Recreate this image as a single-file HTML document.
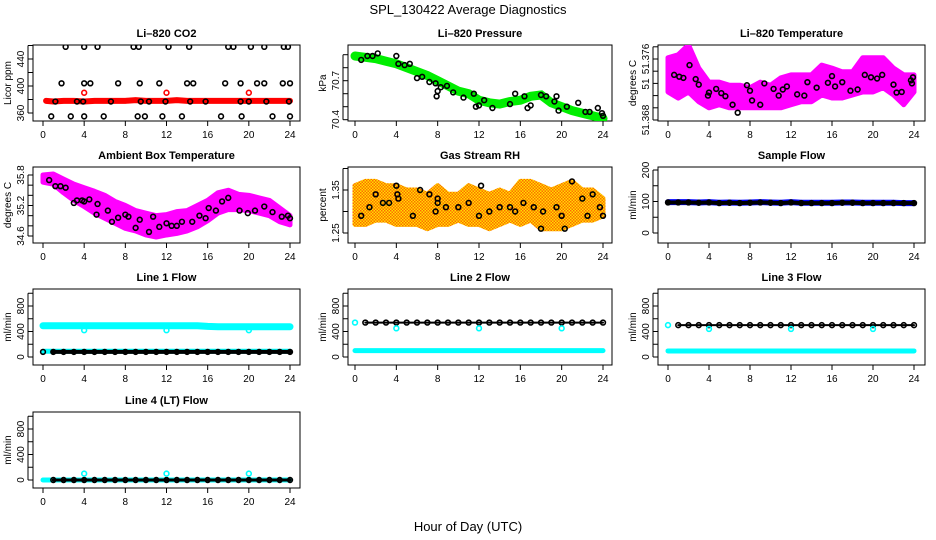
<!DOCTYPE html>
<html><head><meta charset="utf-8"><style>
html,body{margin:0;padding:0;background:#fff;}
svg{display:block;font-family:"Liberation Sans",sans-serif;}
</style></head><body>
<svg id="chart" width="936" height="540" viewBox="0 0 936 540">
<defs>
<pattern id="rhpat" width="3" height="3" patternUnits="userSpaceOnUse"><rect width="3" height="3" fill="#ffe000"/><rect x="0" y="0" width="1.5" height="1.5" fill="#ff6a00"/><rect x="1.5" y="1.5" width="1.5" height="1.5" fill="#ff6a00"/></pattern>
</defs>
<text x="468" y="14" text-anchor="middle" font-size="13">SPL_130422  Average Diagnostics</text>
<text x="468" y="531" text-anchor="middle" font-size="13">Hour of Day (UTC)</text>
</svg>
<script>
const HRS=[0,1,2,3,4,5,6,7,8,9,10,11,12,13,14,15,16,17,18,19,20,21,22,23,24];
const XTICKS=[0,4,8,12,16,20,24];
// CO2
const co2RedT=[0.3,1,2,3,4,5,6,7,8,9,10,11,12,13,14,15,16,17,18,19,20,21,22,23,24];
const co2Red=[378,377,378,378,377,378,378,378,378,379,378,378,378,379,378,378,378,378,378,378,378,378,378,378,378];
const co2SpikeT=[4,12,20];
const co2Spike=[390,390,390];
const co2BlkT=[2.2,4,5.3,8.8,9.3,12.2,14.2,18,18.5,20.2,21.5,23.4,23.8,1.8,4,4.6,7.3,9.4,11.3,14,14.6,17.7,19.2,20.8,21.5,23.3,24,1.2,3.3,3.9,6.6,9.5,10.3,11.9,14.3,15.8,19.2,20.0,21.7,23.9,0.8,2.7,4,5.9,9.2,9.9,11.6,13.5,17.3,19.3,22.3,24];
const co2Blk=[458,458,458,458,458,458,458,458,458,458,458,458,458,404,404,404,404,404,404,404,404,404,404,404,404,404,404,377,377,377,377,377,377,377,377,377,377,377,377,377,355,355,355,355,355,355,355,355,355,355,355,355];
// Pressure
const presC=[70.89,70.88,70.87,70.85,70.83,70.80,70.77,70.74,70.70,70.66,70.62,70.60,70.55,70.53,70.52,70.54,70.55,70.58,70.59,70.53,70.50,70.47,70.45,70.43,70.41];
const presBlkT=[0.6,1.2,1.7,2.2,4,4.2,4.8,5.3,6.0,6.5,7.2,7.8,8.0,7.9,8.3,8.9,9.5,10.5,11.5,11.7,12,12.5,13.3,15.0,15.5,16.4,16.7,17,18,18.5,19.3,19.5,19.7,20.5,21.6,22.3,22.7,23.5,23.9,24];
const presBlk=[70.86,70.89,70.89,70.91,70.89,70.83,70.82,70.83,70.72,70.73,70.69,70.68,70.62,70.58,70.65,70.66,70.61,70.57,70.60,70.50,70.51,70.55,70.49,70.52,70.60,70.58,70.49,70.51,70.59,70.58,70.54,70.58,70.47,70.50,70.53,70.46,70.46,70.49,70.45,70.43];
// Li-820 temperature
const tmpHi=[51.3782,51.3787,51.3803,51.3765,51.3742,51.3742,51.3737,51.3737,51.3733,51.3742,51.3737,51.3749,51.3754,51.3754,51.3754,51.3770,51.3765,51.3759,51.3759,51.3782,51.3782,51.3782,51.3765,51.3754,51.3754];
const tmpLo=[51.3726,51.3716,51.3726,51.3710,51.3700,51.3705,51.3700,51.3700,51.3700,51.3700,51.3700,51.3700,51.3705,51.3710,51.3710,51.3721,51.3716,51.3716,51.3721,51.3726,51.3726,51.3733,51.3721,51.3705,51.3726];
const tmpBlkT=[0.6,1.1,1.5,2.1,2.7,3.0,3.9,4.0,4.7,5.2,5.6,6.3,6.8,7.7,8.0,8.2,9.0,9.4,10.3,10.8,11.2,11.6,12.6,13.3,13.6,14.5,15.6,16.0,16.3,17.0,17.8,18.5,19.2,19.8,20.4,20.9,22.0,22.3,22.8,23.7,23.8,23.9];
const tmpBlk=[51.3754,51.3751,51.3749,51.3770,51.3747,51.3738,51.3720,51.3725,51.3731,51.3724,51.3719,51.3705,51.3692,51.3737,51.3728,51.3712,51.3705,51.3740,51.3731,51.3720,51.3730,51.3735,51.3722,51.3720,51.3742,51.3733,51.3741,51.3752,51.3735,51.3742,51.3728,51.3730,51.3754,51.3750,51.3748,51.3754,51.3738,51.3725,51.3726,51.3745,51.3740,51.3750];
// Ambient box temperature
const ambHi=[35.80,35.82,35.72,35.62,35.55,35.48,35.40,35.28,35.20,35.10,35.05,35.00,35.02,35.08,35.10,35.20,35.30,35.45,35.50,35.42,35.40,35.35,35.30,35.15,35.00];
const ambLo=[35.66,35.62,35.45,35.30,35.18,35.05,34.95,34.85,34.75,34.70,34.62,34.58,34.62,34.65,34.70,34.78,34.90,35.05,35.12,35.12,35.10,35.05,35.00,34.88,34.82];
const ambBlkT=[0.6,1.2,1.7,2.2,3.0,3.3,3.8,4.0,4.5,5.2,5.3,6.3,6.7,7.3,8.0,8.3,9.0,9.4,10.3,10.7,11.3,12.0,12.5,13.0,13.5,14.5,15.2,15.8,16.1,16.8,17.4,18.0,19.1,19.9,20.6,21.5,22.3,23.2,23.8,24.0];
const ambBlk=[35.7,35.58,35.58,35.55,35.25,35.30,35.30,35.28,35.32,35.02,35.23,35.10,34.88,34.96,35.02,34.98,34.76,34.92,34.68,34.98,34.78,34.85,34.80,34.80,34.88,34.88,35.0,34.95,35.15,35.10,35.28,35.35,35.1,35.05,35.10,35.18,35.07,34.98,35.0,34.95];
// Gas stream RH
const rhHi=[1.36,1.37,1.37,1.36,1.36,1.35,1.35,1.34,1.36,1.34,1.34,1.36,1.35,1.34,1.35,1.34,1.37,1.37,1.36,1.35,1.36,1.37,1.35,1.35,1.33];
const rhLo=[1.27,1.27,1.28,1.28,1.27,1.27,1.27,1.26,1.27,1.27,1.28,1.27,1.27,1.26,1.27,1.28,1.27,1.28,1.26,1.26,1.26,1.27,1.28,1.28,1.29];
const rhBlkT=[0.6,1.4,2.0,2.7,3.3,4.0,4.1,4.2,5.6,6.3,7.2,7.8,8.0,8.0,8.8,10.0,11.0,12.0,12.2,13.0,14.0,15.0,15.5,16.3,17.3,18.0,18.2,19.5,20.0,20.3,21.0,22.0,22.5,23.0,23.7,24.0];
const rhBlk=[1.29,1.31,1.34,1.32,1.32,1.36,1.34,1.33,1.29,1.35,1.34,1.30,1.33,1.32,1.31,1.31,1.32,1.29,1.36,1.30,1.31,1.31,1.30,1.32,1.31,1.26,1.30,1.31,1.29,1.26,1.37,1.33,1.29,1.34,1.31,1.29];
// Sample flow
const sfBlue=[98,98,98,97,98,96,97,96,97,98,97,96,98,96,96,96,96,97,97,96,96,96,96,95,95];
const sfBlk=[97,97,97,96,97,95,96,95,96,97,96,95,97,95,95,95,95,96,96,95,95,95,95,95,95];
// Line flows
const l1Cyan=[490,490,490,490,490,490,490,490,490,490,490,490,490,490,490,490,480,475,475,475,475,475,475,475,475];
const l1CyanLow=[90,90,90,90,90,90,90,90,90,90,90,90,90,90,90,90,90,90,90,90,90,90,90,90,90];
const l1Blk=[80,80,80,80,80,80,80,80,80,80,80,80,80,80,80,80,80,80,80,80,80,80,80,80,80];
const l2Cyan=[100,100,100,100,100,100,100,100,100,100,100,100,100,100,100,100,100,100,100,100,100,100,100,100,100];
const l2Blk=[540,540,540,540,540,540,540,540,540,540,540,540,540,540,540,540,540,540,540,540,540,540,540,540,540];
const l3Cyan=[95,95,95,95,95,95,95,95,95,95,95,95,95,95,95,95,95,95,95,95,95,95,95,95,95];
const l3Blk=[500,500,500,500,500,500,500,500,500,500,500,500,500,500,500,500,500,500,500,500,500,500,500,500,500];
const l4Cyan=[0,0,0,0,0,0,0,0,0,0,0,0,0,0,0,0,0,0,0,0,0,0,0,0,0];
const l4Blk=[0,0,0,0,0,0,0,0,0,0,0,0,0,0,0,0,0,0,0,0,0,0,0,0,0];
const dipT=[4,12,20];
const l1Dip=[420,420,420];
const l2Dip=[450,450,450];
const l3Dip=[440,440,440];
const l4Dip=[100,100,100];

const svg=document.getElementById('chart');
const NS='http://www.w3.org/2000/svg';
function mk(tag,attrs,parent){const e=document.createElementNS(NS,tag);for(const k in attrs)e.setAttribute(k,attrs[k]);(parent||svg).appendChild(e);return e;}

function panel(o){
  const g=mk('g',{});
  
  
  const xs=t=>o.x0+(o.x24-o.x0)*t/24;
  const ys=v=>o.p1+(v-o.v1)*(o.p2-o.p1)/(o.v2-o.v1);
  const box=mk('rect',{x:o.l,y:o.t,width:o.r-o.l,height:76,fill:'none',stroke:'#000','stroke-width':1},g);
  
  
  const tt=mk('text',{x:(o.l+o.r)/2,y:o.t-8,'text-anchor':'middle','font-size':11,'font-weight':'bold'},g);
  tt.textContent=o.title;
  
  
  const b=o.t+76;
  const xa=mk('g',{},g);
  
  
  mk('line',{x1:xs(0),x2:xs(24),y1:b,y2:b,stroke:'#000'},xa);
  XTICKS.forEach(t=>{mk('line',{x1:xs(t),x2:xs(t),y1:b,y2:b+5,stroke:'#000'},xa);
    const lb=mk('text',{x:xs(t),y:b+17,'text-anchor':'middle','font-size':10},xa);lb.textContent=t;});
  const ya=mk('g',{},g);
  
  
  o.yt.forEach(v=>mk('line',{x1:o.l-5,x2:o.l,y1:ys(v),y2:ys(v),stroke:'#000'},ya));
  mk('line',{x1:o.l-5,x2:o.l-5,y1:ys(o.yt[0]),y2:ys(o.yt[o.yt.length-1]),stroke:'#000'},ya);
  o.yl.forEach((v,i)=>{const y=o.ylPix?o.ylPix[i]:ys(v);const lb=mk('text',{x:0,y:0,'text-anchor':'middle','font-size':10,transform:`translate(${o.l-9},${y}) rotate(-90)`},ya);lb.textContent=o.ylText?o.ylText[i]:v;});
  const yt=mk('text',{x:0,y:0,'text-anchor':'middle','font-size':10,transform:`translate(${o.l-22},${o.t+38}) rotate(-90)`},ya);
  yt.textContent=o.ylab;
  
  
  const clip='c'+o.name;
  const cp=mk('clipPath',{id:clip},g);mk('rect',{x:o.l,y:o.t,width:o.r-o.l,height:76},cp);
  const pg=mk('g',{'clip-path':`url(#${clip})`},g);
  return {g:pg,xs,ys};
}
function band(P,T,lo,hi,fill,name){
  let d='M'+T.map((t,i)=>P.xs(t)+','+P.ys(hi[i])).join('L');
  for(let i=T.length-1;i>=0;i--)d+='L'+P.xs(T[i])+','+P.ys(lo[i]);
  const p=mk('path',{d:d+'Z',fill:fill,stroke:fill,'stroke-width':5,'stroke-linejoin':'round'},P.g);
  
  
}
function line(P,T,V,color,w,name){
  const p=mk('polyline',{points:T.map((t,i)=>P.xs(t)+','+P.ys(V[i])).join(' '),fill:'none',stroke:color,'stroke-width':w,'stroke-linecap':'round'},P.g);
  
  
}
function pts(P,T,V,color,name,r){
  T.forEach((t,i)=>{const c=mk('circle',{cx:P.xs(t),cy:P.ys(V[i]),r:r||2.4,fill:'none',stroke:color,'stroke-width':1.6},P.g);
    
    });
}
const C1={l:33,r:300,x0:43,x24:290},C2={l:348,r:612,x0:355,x24:603},C3={l:658,r:925,x0:668,x24:914};
const R=[45,167,289,412];
function P(c,row,o){return panel(Object.assign({},c,{t:R[row]},o));}

let p=P(C1,0,{name:'co2-panel',title:'Li\u2013820 CO2',ylab:'Licor ppm',v1:360,p1:113,v2:440,p2:59,yt:[360,380,400,420,440,460],yl:[360,400,440]});
line(p,co2RedT,co2Red,'#ff0000',6,'co2-red-series');
pts(p,co2SpikeT,co2Spike,'#ff0000','co2-red-point');
pts(p,co2BlkT,co2Blk,'#000','co2-black-point');

p=P(C2,0,{name:'pressure-panel',title:'Li\u2013820 Pressure',ylab:'kPa',v1:70.4,p1:119.7,v2:70.7,p2:80.7,yt:[70.4,70.5,70.6,70.7,70.8,70.9],yl:[70.4,70.7]});
line(p,HRS,presC,'#00ee00',9,'pressure-green-series');
pts(p,presBlkT,presBlk,'#000','pressure-black-point');

p=P(C3,0,{name:'li820-temp-panel',title:'Li\u2013820 Temperature',ylab:'degrees C',v1:51.368,p1:120,v2:51.376,p2:71.2,yt:[51.368,51.370,51.372,51.374,51.376,51.378,51.380],yl:[0,0,0],ylPix:[59,84,120],ylText:['51.376','51','51.368']});
band(p,HRS,tmpLo,tmpHi,'#ff00ff','temp-magenta-cloud');
pts(p,tmpBlkT,tmpBlk,'#000','temp-black-point');

p=P(C1,1,{name:'ambient-temp-panel',title:'Ambient Box Temperature',ylab:'degrees C',v1:34.6,p1:236,v2:35.8,p2:175,yt:[34.6,34.8,35.0,35.2,35.4,35.6,35.8],yl:[35.8,35.2,34.6]});
band(p,HRS,ambLo,ambHi,'#ff00ff','ambient-magenta-cloud');
pts(p,ambBlkT,ambBlk,'#000','ambient-black-point');

p=P(C2,1,{name:'rh-panel',title:'Gas Stream RH',ylab:'percent',v1:1.25,p1:233,v2:1.35,p2:190,yt:[1.25,1.30,1.35,1.40],yl:[1.25,1.35]});
band(p,HRS,rhLo,rhHi,'url(#rhpat)','rh-orange-cloud');
pts(p,rhBlkT,rhBlk,'#000','rh-black-point');

p=P(C3,1,{name:'sample-flow-panel',title:'Sample Flow',ylab:'ml/min',v1:0,p1:233,v2:200,p2:170,yt:[0,50,100,150,200],yl:[0,100,200]});
line(p,HRS,sfBlue,'#0000ff',6,'sample-flow-blue-series');
line(p,HRS,sfBlk,'#000',4,'sample-flow-black-series');
pts(p,HRS,sfBlk,'#000','sample-flow-black-point');

const FT=[0,200,400,600,800,1000],FL=[0,400,800];
p=P(C1,2,{name:'line1-flow-panel',title:'Line 1 Flow',ylab:'ml/min',v1:0,p1:357,v2:800,p2:306,yt:FT,yl:FL});
line(p,HRS,l1Cyan,'#00ffff',7,'line1-cyan-series');
line(p,HRS,l1CyanLow,'#00ffff',5,'line1-cyan-low-series');
line(p,HRS.slice(1),l1Blk.slice(1),'#000',4,'line1-black-series');
pts(p,HRS,l1Blk,'#000','line1-black-point');
pts(p,dipT,l1Dip,'#00ffff','line1-cyan-dip');

p=P(C2,2,{name:'line2-flow-panel',title:'Line 2 Flow',ylab:'ml/min',v1:0,p1:357,v2:800,p2:306,yt:FT,yl:FL});
line(p,HRS,l2Cyan,'#00ffff',5,'line2-cyan-series');
line(p,HRS.slice(1),l2Blk.slice(1),'#000',2,'line2-black-series');
pts(p,HRS.slice(1),l2Blk.slice(1),'#000','line2-black-point');
pts(p,[0],[l2Blk[0]],'#00ffff','line2-cyan-start');
pts(p,dipT,l2Dip,'#00ffff','line2-cyan-dip');

p=P(C3,2,{name:'line3-flow-panel',title:'Line 3 Flow',ylab:'ml/min',v1:0,p1:357,v2:800,p2:306,yt:FT,yl:FL});
line(p,HRS,l3Cyan,'#00ffff',5,'line3-cyan-series');
line(p,HRS.slice(1),l3Blk.slice(1),'#000',2,'line3-black-series');
pts(p,HRS.slice(1),l3Blk.slice(1),'#000','line3-black-point');
pts(p,[0],[l3Blk[0]],'#00ffff','line3-cyan-start');
pts(p,dipT,l3Dip,'#00ffff','line3-cyan-dip');

p=P(C1,3,{name:'line4-flow-panel',title:'Line 4 (LT) Flow',ylab:'ml/min',v1:0,p1:480,v2:800,p2:429,yt:FT,yl:FL});
line(p,HRS,l4Cyan,'#00ffff',5,'line4-cyan-series');
line(p,HRS.slice(1),l4Blk.slice(1),'#000',3,'line4-black-series');
pts(p,HRS.slice(1),l4Blk.slice(1),'#000','line4-black-point');
pts(p,dipT,l4Dip,'#00ffff','line4-cyan-spike');
</script>
</body></html>
